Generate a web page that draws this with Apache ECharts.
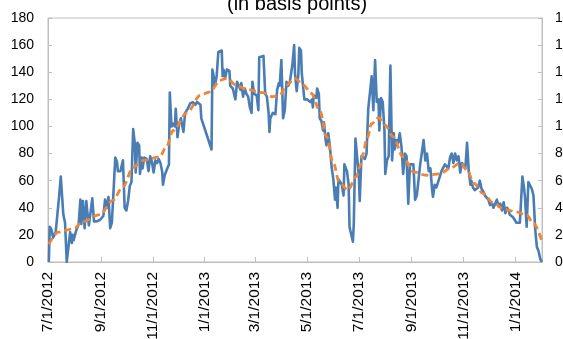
<!DOCTYPE html>
<html><head><meta charset="utf-8">
<script src="https://cdn.jsdelivr.net/npm/echarts@6/dist/echarts.min.js"></script>
<style>html,body{margin:0;padding:0;background:#fff}#c{width:563px;height:339px}</style>
</head><body><div id="c"></div>
<script>
// ---- data ----
const titleText = '(in basis points)';
const axisStart = '2012-07-01';
const axisEnd = '2014-02-01';
const yMin = 0, yMax = 180, yStep = 20;

const blueDates = [
'2012-07-02','2012-07-03','2012-07-05','2012-07-07','2012-07-10','2012-07-14','2012-07-16','2012-07-19','2012-07-21','2012-07-23',
'2012-07-25','2012-07-27','2012-07-29','2012-07-30','2012-07-31','2012-08-03','2012-08-06','2012-08-08','2012-08-09','2012-08-11',
'2012-08-13','2012-08-15','2012-08-16','2012-08-18','2012-08-20','2012-08-22','2012-08-24','2012-08-27','2012-08-31','2012-09-02',
'2012-09-04','2012-09-06','2012-09-08','2012-09-10','2012-09-12','2012-09-14','2012-09-16','2012-09-18','2012-09-20','2012-09-21',
'2012-09-24','2012-09-26','2012-09-27','2012-09-29','2012-10-01','2012-10-03','2012-10-05','2012-10-07','2012-10-09','2012-10-11',
'2012-10-12','2012-10-14','2012-10-16','2012-10-17','2012-10-19','2012-10-20','2012-10-22','2012-10-25','2012-10-27','2012-10-29',
'2012-10-31','2012-11-02','2012-11-04','2012-11-06','2012-11-08','2012-11-10','2012-11-12','2012-11-13','2012-11-15','2012-11-18',
'2012-11-20','2012-11-21','2012-11-23','2012-11-25','2012-11-27','2012-11-28','2012-11-30','2012-12-02','2012-12-04','2012-12-07',
'2012-12-09','2012-12-12','2012-12-15','2012-12-18','2012-12-21','2012-12-23','2012-12-25','2012-12-27','2012-12-28','2013-01-09',
'2013-01-10','2013-01-11','2013-01-13','2013-01-15','2013-01-17','2013-01-19','2013-01-21','2013-01-22','2013-01-23','2013-01-25',
'2013-01-27','2013-01-30','2013-01-31','2013-02-03','2013-02-06','2013-02-08','2013-02-10','2013-02-12','2013-02-13','2013-02-15',
'2013-02-17','2013-02-19','2013-02-21','2013-02-23','2013-02-25','2013-02-26','2013-02-28','2013-03-03','2013-03-05','2013-03-06',
'2013-03-11','2013-03-13','2013-03-15','2013-03-17','2013-03-18','2013-03-19','2013-03-22','2013-03-25','2013-03-27','2013-03-29',
'2013-03-30','2013-04-01','2013-04-03','2013-04-05','2013-04-07','2013-04-09','2013-04-11','2013-04-14','2013-04-16','2013-04-17',
'2013-04-19','2013-04-21','2013-04-22','2013-04-24','2013-04-25','2013-04-28','2013-05-01','2013-05-05','2013-05-07','2013-05-08',
'2013-05-09','2013-05-12','2013-05-13','2013-05-15','2013-05-16','2013-05-18','2013-05-20','2013-05-21','2013-05-23','2013-05-24',
'2013-05-26','2013-05-28','2013-05-30','2013-06-01','2013-06-03','2013-06-04','2013-06-06','2013-06-07','2013-06-09','2013-06-11',
'2013-06-13','2013-06-14','2013-06-16','2013-06-17','2013-06-19','2013-06-20','2013-06-21','2013-06-24','2013-06-25','2013-06-27',
'2013-06-29','2013-07-01','2013-07-02','2013-07-04','2013-07-06','2013-07-08','2013-07-10','2013-07-12','2013-07-14','2013-07-16',
'2013-07-18','2013-07-20','2013-07-22','2013-07-24','2013-07-25','2013-07-27','2013-07-29','2013-07-31','2013-08-01','2013-08-03',
'2013-08-05','2013-08-07','2013-08-09','2013-08-11','2013-08-12','2013-08-14','2013-08-16','2013-08-18','2013-08-20','2013-08-22',
'2013-08-24','2013-08-26','2013-08-28','2013-08-30','2013-09-01','2013-09-03','2013-09-05','2013-09-07','2013-09-11','2013-09-15',
'2013-09-17','2013-09-19','2013-09-21','2013-09-23','2013-09-25','2013-09-26','2013-09-28','2013-09-30','2013-10-02','2013-10-04',
'2013-10-06','2013-10-10','2013-10-12','2013-10-14','2013-10-16','2013-10-18','2013-10-20','2013-10-22','2013-10-24','2013-10-26',
'2013-10-28','2013-10-30','2013-11-01','2013-11-03','2013-11-05','2013-11-07','2013-11-09','2013-11-10','2013-11-12','2013-11-14',
'2013-11-18','2013-11-20','2013-11-22','2013-11-24','2013-11-26','2013-11-28','2013-11-30','2013-12-02','2013-12-04','2013-12-06',
'2013-12-08','2013-12-10','2013-12-12','2013-12-14','2013-12-16','2013-12-18','2013-12-20','2013-12-22','2013-12-24','2013-12-25',
'2013-12-27','2013-12-29','2014-01-02','2014-01-06','2014-01-08','2014-01-09','2014-01-11','2014-01-12','2014-01-14','2014-01-16',
'2014-01-18','2014-01-20','2014-01-22','2014-01-24','2014-01-26','2014-01-28','2014-01-30','2014-02-01'
];
const blueValues = [
0,26,24,18,22,48,63,35,29,0,
0,22,14,20,16,23,28,46,28,45,
25,45,38,27,28,47,30,30,31,30,
34,46,40,48,25,29,29,77,74,67,
67,67,75,40,38,45,56,59,98,87,
66,88,86,65,77,69,77,76,67,78,
74,66,75,73,76,73,67,57,64,69,
72,125,100,102,100,113,92,102,106,96,
110,113,117,118,116,118,118,116,106,83,
142,139,130,137,155,156,156,137,142,136,
142,141,130,128,120,133,134,127,132,122,
128,124,122,114,110,133,124,123,112,151,
152,124,122,110,96,106,110,109,127,132,
130,149,106,112,133,130,133,146,160,139,
126,139,158,156,139,120,120,118,120,114,
123,121,128,124,106,104,97,103,90,86,
95,85,70,61,46,55,40,61,60,57,
49,72,72,67,57,26,23,15,28,91,
92,63,45,78,78,76,80,113,112,137,
112,149,118,120,97,121,118,97,65,75,
78,145,75,95,83,90,88,95,85,65,
80,78,43,72,73,72,46,49,72,90,
75,80,67,69,53,48,57,55,59,60,
67,72,73,69,77,80,73,80,75,78,
66,73,72,69,88,67,57,60,55,53,
55,60,54,52,49,48,46,42,44,40,
43,46,41,43,38,44,36,40,38,35,
36,33,29,29,29,63,54,48,26,59,
59,54,49,24,11,8,2,0
];

const trendDates = [
'2012-07-02','2012-07-13','2012-07-23','2012-08-01','2012-08-11','2012-08-31','2012-09-15','2012-09-27','2012-10-09','2012-10-21',
'2012-11-09','2012-11-17','2012-11-25','2012-12-11','2012-12-27','2013-01-07','2013-01-19','2013-01-27','2013-02-07','2013-02-18',
'2013-03-10','2013-03-22','2013-03-30','2013-04-07','2013-04-17','2013-04-27','2013-05-06','2013-05-16','2013-05-24','2013-06-01',
'2013-06-08','2013-06-18','2013-06-28','2013-07-02','2013-07-06','2013-07-10','2013-07-16','2013-07-24','2013-08-01','2013-08-10',
'2013-08-22','2013-09-03','2013-09-18','2013-10-04','2013-10-16','2013-10-28','2013-11-05','2013-11-13','2013-11-24','2013-12-06',
'2013-12-18','2014-01-02','2014-01-14','2014-01-22','2014-02-01'
];
const trendValues = [
13,22,23.6,25,30,35,45.5,55.5,70,75,
77.5,85,97,110,123,125.5,134,135.5,130.5,127.5,
125,122,123,130.5,135.5,130.5,124.5,112,92.5,73,
59,53,63,70,80,90,102,106.5,101,92.5,
77.5,66.5,64,65,69,73,68,58,50.5,43.5,
39,37,34.5,28.5,15
];

// ---- build ----
const DAY = 864e5;
function parseISO(s){ const [y,m,d] = s.split('-').map(Number); return Date.UTC(y, m-1, d); }
const t0 = parseISO(axisStart), t1 = parseISO(axisEnd);
const categories = [];
for (let t = t0; t <= t1; t += DAY) {
  const dt = new Date(t);
  categories.push(dt.getUTCFullYear() + '-' + String(dt.getUTCMonth()+1).padStart(2,'0') + '-' + String(dt.getUTCDate()).padStart(2,'0'));
}
const idxOf = s => Math.round((parseISO(s) - t0) / DAY);
const blueData = blueDates.map((d,i) => [idxOf(d), blueValues[i]]);
const trendData = trendDates.map((d,i) => [idxOf(d), trendValues[i]]);

const isTick = (i, v) => { const p = v.split('-').map(Number); return p[2] === 1 && p[1] % 2 === 1; };
const fmt = v => { const p = v.split('-').map(Number); return p[1] + '/' + p[2] + '/' + p[0]; };

const FONT = 'Liberation Sans, Arial, sans-serif';
const GRAY = '#bfbfbf';
const yAxisBase = {
  type: 'value', min: yMin, max: yMax, interval: yStep,
  axisLine: { show: true, lineStyle: { color: GRAY, width: 1 } },
  axisTick: { show: true, inside: true, length: 4, lineStyle: { color: GRAY } },
  splitLine: { show: false },
  axisLabel: { color: '#000', fontSize: 14, fontFamily: FONT }
};

const chart = echarts.init(document.getElementById('c'), null, { renderer: 'canvas' });
chart.setOption({
  animation: false,
  backgroundColor: '#fff',
  title: {
    text: titleText, left: 222, top: -11,
    textStyle: { fontSize: 20, fontWeight: 'normal', color: '#000', fontFamily: FONT }
  },
  grid: { left: 48, right: 21, top: 18, bottom: 77, containLabel: false, outerBoundsMode: 'none',
          show: true, borderColor: GRAY, borderWidth: 1, backgroundColor: 'transparent' },
  xAxis: {
    type: 'category', data: categories, boundaryGap: false,
    axisLine: { lineStyle: { color: GRAY, width: 1 } },
    axisTick: { show: true, inside: true, length: 5, interval: isTick, lineStyle: { color: GRAY } },
    axisLabel: { interval: isTick, rotate: 90, margin: 10, formatter: fmt, color: '#000', fontSize: 15.5, fontFamily: FONT },
    splitLine: { show: false }
  },
  yAxis: [
    Object.assign({}, yAxisBase, { position: 'left', axisLabel: Object.assign({}, yAxisBase.axisLabel, { margin: 14 }) }),
    Object.assign({}, yAxisBase, { position: 'right', axisLabel: Object.assign({}, yAxisBase.axisLabel, { margin: 13 }) })
  ],
  series: [
    {
      type: 'line', data: blueData, yAxisIndex: 0, showSymbol: false, symbol: 'none',
      lineStyle: { color: '#4a7db4', width: 2.6, join: 'round' }, z: 2
    },
    {
      type: 'line', data: trendData, yAxisIndex: 0, showSymbol: false, symbol: 'none',
      smooth: 0.35, smoothMonotone: 'x',
      lineStyle: { color: '#ef8537', width: 2.8, type: [7, 4] }, z: 3
    }
  ]
});
</script>
</body></html>
